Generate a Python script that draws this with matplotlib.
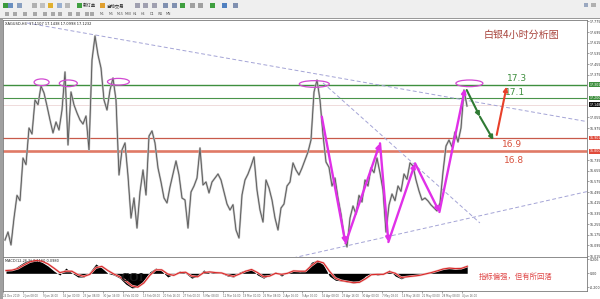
import matplotlib
matplotlib.use('Agg')
import matplotlib.pyplot as plt
from matplotlib.patches import Ellipse, Rectangle
import numpy as np

plt.rcParams['font.family'] = ['DejaVu Sans', 'Noto Sans CJK SC']
CJK = ['Noto Sans CJK SC', 'DejaVu Sans']

# --- data (XAGUSD H4) ---
closes = [16.135, 16.195, 16.098, 16.300, 16.470, 16.430, 16.750, 16.700, 16.975, 16.930,
          17.185, 17.150, 17.290, 17.238, 17.140, 17.035, 16.938, 17.020, 16.960, 17.110,
          17.395, 16.848, 17.245, 17.148, 17.088, 17.035, 17.005, 17.065, 16.810, 17.485,
          17.665, 17.523, 17.425, 17.185, 17.110, 17.260, 17.350, 17.185, 16.623, 16.810,
          16.863, 16.615, 16.300, 16.450, 16.225, 16.495, 16.660, 16.473, 16.915, 16.953,
          16.863, 16.675, 16.570, 16.450, 16.413, 16.533, 16.630, 16.728, 16.623, 16.450,
          16.435, 16.225, 16.495, 16.540, 16.600, 16.825, 16.548, 16.570, 16.488, 16.570,
          16.600, 16.630, 16.585, 16.495, 16.405, 16.360, 16.400, 16.210, 16.150, 16.473,
          16.585, 16.630, 16.690, 16.758, 16.510, 16.360, 16.270, 16.585, 16.525, 16.435,
          16.300, 16.210, 16.375, 16.405, 16.540, 16.570, 16.713, 16.660, 16.623, 16.675,
          16.735, 16.795, 16.885, 17.245, 17.335, 17.185, 16.923, 16.720, 16.680, 16.540,
          16.600, 16.450, 16.330, 16.173, 16.083, 16.300, 16.390, 16.330, 16.470, 16.420,
          16.585, 16.540, 16.675, 16.640, 16.750, 16.638, 16.510, 16.195, 16.398, 16.480,
          16.430, 16.540, 16.500, 16.630, 16.590, 16.713, 16.690, 16.585, 16.503, 16.435,
          16.450, 16.428, 16.398, 16.375, 16.353, 16.413, 16.645, 16.840, 16.885, 16.833,
          16.945, 16.870, 16.975, 17.260, 17.140]
bars = np.arange(len(closes))

green_levels = [17.30, 17.20]
red_levels = [16.90, 16.80]
bid_level = 17.148
# axis ticks that MT4 leaves visible (those under the level boxes are hidden)
price_ticks = [16.015, 16.095, 16.175, 16.255, 16.335, 16.415, 16.495, 16.575, 16.655,
               16.735, 16.975, 17.055, 17.375, 17.455, 17.535, 17.615, 17.695, 17.775]

# dashed trend lines (bar, price)
trend_top_bar, trend_top_px = [7.3, 194.0], [17.763, 17.023]
trend_mid_bar, trend_mid_px = [106.0, 158.3], [17.313, 16.263]
trend_low_bar, trend_low_px = [92.0, 194.0], [15.98, 16.498]

# magenta swing arrows
swing_bar = [105.6, 113.5, 125.0, 127.8, 136.7, 144.8, 153.3]
swing_px = [17.06, 16.11, 16.86, 16.12, 16.71, 16.345, 17.27]
# forecast arrows
fall_bar, fall_px = [153.9, 158.3, 162.8], [17.26, 17.06, 16.885]
rise_bar, rise_px = [163.9, 167.2], [16.923, 17.285]

# circled tops
tops_bar = [12.2, 21.1, 37.8, 103.1, 154.8]
tops_px = [17.318, 17.31, 17.322, 17.305, 17.31]
tops_w = [5, 6, 7.3, 10, 9]

macd = [0.048, 0.048, 0.105, 0.16, 0.19, 0.19, 0.16, 0.105, 0.033, -0.025,
        0.076, 0.005, -0.053, -0.053, 0.02, 0.135, 0.076, 0.0, -0.025, -0.07,
        -0.155, -0.21, -0.2, -0.1, 0.02, 0.076, 0.033, -0.053, -0.01, 0.033,
        0.0, -0.07, -0.04, 0.048, 0.0, 0.02, 0.0, -0.04, -0.053, 0.02,
        0.048, 0.06, -0.025, -0.07, -0.025, 0.02, -0.04, 0.02, 0.048, 0.023,
        0.033, 0.16, 0.19, 0.12, -0.04, -0.1, -0.11, -0.125, -0.14, -0.125,
        -0.04, 0.0, -0.025, -0.01, 0.048, -0.04, -0.08, -0.04, -0.04, -0.025,
        0.0, 0.02, 0.048, 0.076, 0.076, 0.06, 0.076, 0.12]
signal = [0.04, 0.045, 0.07, 0.12, 0.165, 0.185, 0.175, 0.135, 0.075, 0.01,
          0.03, 0.03, -0.02, -0.045, -0.015, 0.08, 0.1, 0.04, -0.01, -0.05,
          -0.11, -0.18, -0.2, -0.14, -0.03, 0.05, 0.05, -0.01, -0.03, 0.01,
          0.015, -0.04, -0.05, 0.01, 0.02, 0.01, 0.005, -0.025, -0.045, -0.01,
          0.03, 0.055, 0.01, -0.05, -0.04, 0.0, -0.015, 0.0, 0.035, 0.03,
          0.03, 0.11, 0.175, 0.15, 0.03, -0.07, -0.105, -0.12, -0.135, -0.13,
          -0.08, -0.02, -0.015, -0.015, 0.025, 0.0, -0.06, -0.05, -0.04, -0.03,
          -0.01, 0.01, 0.035, 0.062, 0.075, 0.068, 0.07, 0.1]
macd_bars = bars[::2]

date_labels = ['24 Dec 2019', '2 Jan 08:00', '9 Jan 16:00', '16 Jan 00:00', '23 Jan 08:00',
               '30 Jan 16:00', '6 Feb 00:00', '13 Feb 08:00', '20 Feb 16:00', '27 Feb 00:00',
               '5 Mar 08:00', '12 Mar 16:00', '19 Mar 00:00', '26 Mar 08:00', '2 Apr 16:00',
               '9 Apr 00:00', '16 Apr 08:00', '23 Apr 16:00', '30 Apr 00:00', '7 May 08:00',
               '14 May 16:00', '21 May 00:00', '28 May 08:00', '4 Jun 16:00']

W, H = 600, 299
fig = plt.figure(figsize=(W / 100, H / 100), dpi=100)
fig.patch.set_facecolor('white')


def px_rect(x, y, w, h, **kw):
    fig.add_artist(Rectangle((x / W, 1 - (y + h) / H), w / W, h / H,
                             transform=fig.transFigure, **kw))


def px_text(x, y, s, **kw):
    fig.text(x / W, 1 - y / H, s, **kw)


# toolbar
px_rect(0, 0, 600, 19, fc='#efefef', ec='none')
px_rect(0, 18, 600, 1.2, fc='#9a9a9a', ec='none')
icons1 = [(3, '#3c9a3c'), (8, '#6a8fc0'), (17, '#8aa0c0'), (32, '#b0b0b0'), (40, '#c0c0c0'),
          (48, '#e0b030'), (57, '#9ab0d0'), (65, '#b8b8b8'), (77, '#40a040'), (100, '#e0a030'),
          (135, '#a0a0b0'), (143, '#a0a0b0'), (152, '#a0a0b0'), (163, '#8090b0'),
          (172, '#8090b0'), (180, '#40a040'), (190, '#a0a0a0'), (198, '#a0a0a0'),
          (210, '#40a040'), (222, '#5080c0'), (233, '#8090b0')]
for x, c in icons1:
    px_rect(x, 2.5, 5, 5, fc=c, ec='none')
px_text(83, 5.5, '新订单', fontsize=3.2, va='center', family=CJK, color='#202020')
px_text(106, 5.5, '自动交易', fontsize=3.2, va='center', family=CJK, color='#202020')
for x in [5, 13, 23, 33, 43, 51, 58, 68, 76, 85, 90]:
    px_rect(x, 11.5, 3.5, 4, fc='#a8a8a8', ec='none')
for k, tf in enumerate(['M1', 'M5', 'M15', 'M30', 'H1', 'H4', 'D1', 'W1', 'MN']):
    px_text(100 + k * 8.2, 13.8, tf, fontsize=2.3, va='center', color='#505050')
px_rect(584, 3, 4, 4, fc='#9aa8c0', ec='none')
px_rect(591, 3, 5, 4, fc='#b0b0b0', ec='none')
px_rect(0, 19, 2.5, 280, fc='#a0a0a0', ec='none')

# panels
ax = fig.add_axes([3 / W, 1 - 257 / H, 584 / W, 237 / H])
ax2 = fig.add_axes([3 / W, 1 - 291 / H, 584 / W, 34 / H])

for a in (ax, ax2):
    a.set_xlim(-0.667, 194)
    for s in a.spines.values():
        s.set_color('#7a7a7a')
        s.set_linewidth(0.6)
    a.yaxis.tick_right()
    a.tick_params(axis='y', length=1.2, width=0.4, labelsize=2.3, labelcolor='#303030',
                  pad=0.6, colors='#606060')

ax.set_ylim(16.0075, 17.785)
ax.set_xticks([])
ax.set_yticks(price_ticks)
ax.set_yticklabels(['%.3f' % t for t in price_ticks])

# levels
ax.axhline(bid_level, color='#ecd6d6', lw=0.6, zorder=1)
ax.axhline(green_levels[0], color='#3f8f3f', lw=1.0, zorder=2)
ax.axhline(green_levels[1], color='#4a944a', lw=0.8, zorder=2)
ax.axhline(red_levels[0], color='#c85a4a', lw=0.9, zorder=2)
ax.axhline(red_levels[1], color='#e07a66', lw=1.9, zorder=2)

# trend lines
for xs, ys in [(trend_top_bar, trend_top_px), (trend_mid_bar, trend_mid_px),
               (trend_low_bar, trend_low_px)]:
    ax.plot(xs, ys, color='#a4a4d6', lw=0.7, ls=(0, (4, 2.5)), zorder=2)

# price: light halo under a thin dark trace, like dense H4 bars
ax.plot(bars, closes, color='#bdbdbd', lw=1.5, zorder=3)
ax.plot(bars, closes, color='#555555', lw=0.6, zorder=3)

# circled tops
for b, p, w in zip(tops_bar, tops_px, tops_w):
    ax.add_patch(Ellipse((b, p), w, 0.05, fill=False, ec='#d24ad2', lw=0.9, zorder=4))

# swing arrows
for k in range(len(swing_bar) - 1):
    ax.annotate('', xy=(swing_bar[k + 1], swing_px[k + 1]),
                xytext=(swing_bar[k], swing_px[k]),
                arrowprops=dict(arrowstyle='-|>', color='#e030e8', lw=1.7,
                                mutation_scale=6, shrinkA=0, shrinkB=0), zorder=5)
for k in range(len(fall_bar) - 1):
    ax.annotate('', xy=(fall_bar[k + 1], fall_px[k + 1]), xytext=(fall_bar[k], fall_px[k]),
                arrowprops=dict(arrowstyle='-|>', color='#2f7a34', lw=1.5,
                                mutation_scale=6, shrinkA=0, shrinkB=0), zorder=5)
ax.annotate('', xy=(rise_bar[1], rise_px[1]), xytext=(rise_bar[0], rise_px[0]),
            arrowprops=dict(arrowstyle='-|>', color='#e8402a', lw=1.5,
                            mutation_scale=6, shrinkA=0, shrinkB=0), zorder=5)

# level texts
ax.text(170.6, 17.35, '17.3', color='#3f8f3f', fontsize=6.5, ha='center', va='center')
ax.text(170.0, 17.245, '17.1', color='#3f8f3f', fontsize=6.5, ha='center', va='center')
ax.text(169.0, 16.85, '16.9', color='#d8503c', fontsize=6.5, ha='center', va='center')
ax.text(169.7, 16.735, '16.8', color='#d8503c', fontsize=6.5, ha='center', va='center')

ax.text(0.888, 0.939, '白银4小时分析图', transform=ax.transAxes, color='#a8443c',
        fontsize=7.2, ha='center', va='center', family=CJK)
ax.text(0.004, 0.993, 'XAGUSD,H4  17.1107 17.1438 17.0998 17.1232', transform=ax.transAxes,
        fontsize=2.6, ha='left', va='top', color='#202020')

# axis level boxes
tr = ax.get_yaxis_transform()
for lvl, txt, fc in [(green_levels[0], '17.301', '#3f8f3f'), (green_levels[1], '17.200', '#3f8f3f'),
                     (bid_level, '17.148', '#101010'), (red_levels[0], '16.901', '#e04a3a'),
                     (red_levels[1], '16.800', '#e04a3a')]:
    ax.text(1.004, lvl, txt, transform=tr, fontsize=2.3, color='white', ha='left', va='center',
            bbox=dict(boxstyle='square,pad=0.15', fc=fc, ec='none'), clip_on=False)

# indicator
ax2.set_ylim(-0.255, 0.235)
ax2.fill_between(macd_bars, macd, 0, color='black', lw=0, zorder=2)
ax2.plot(macd_bars, signal, color='#f4c4c4', lw=1.6, zorder=3)
ax2.plot(macd_bars, signal, color='#d82828', lw=0.8, zorder=4)
ax2.set_yticks([0.2055, 0.0, -0.1996])
ax2.set_yticklabels(['0.206', '0.00', '-0.200'])
ax2.text(0.004, 0.93, 'MACD(12,26,9) 0.1160 0.0980', transform=ax2.transAxes, fontsize=2.5,
         ha='left', va='top', color='#202020')
ax2.text(42.2, -0.07, 'COI', fontsize=9, family='Liberation Serif', fontweight='bold',
         color='#1a1a1a', ha='center', va='center', zorder=6)
ax2.text(0.878, 0.42, '指标偏强，但有所回落', transform=ax2.transAxes, color='#e04848',
         fontsize=5.3, ha='center', va='center', family=CJK)

date_pos = np.arange(len(date_labels)) * 20 / 3 - 1
ax2.set_xticks(date_pos)
ax2.set_xticklabels(date_labels, fontsize=1.9, color='#303030', ha='left')
ax2.tick_params(axis='x', length=1.2, width=0.4, pad=0.8, colors='#606060')

fig.savefig('out.png', dpi=100)
